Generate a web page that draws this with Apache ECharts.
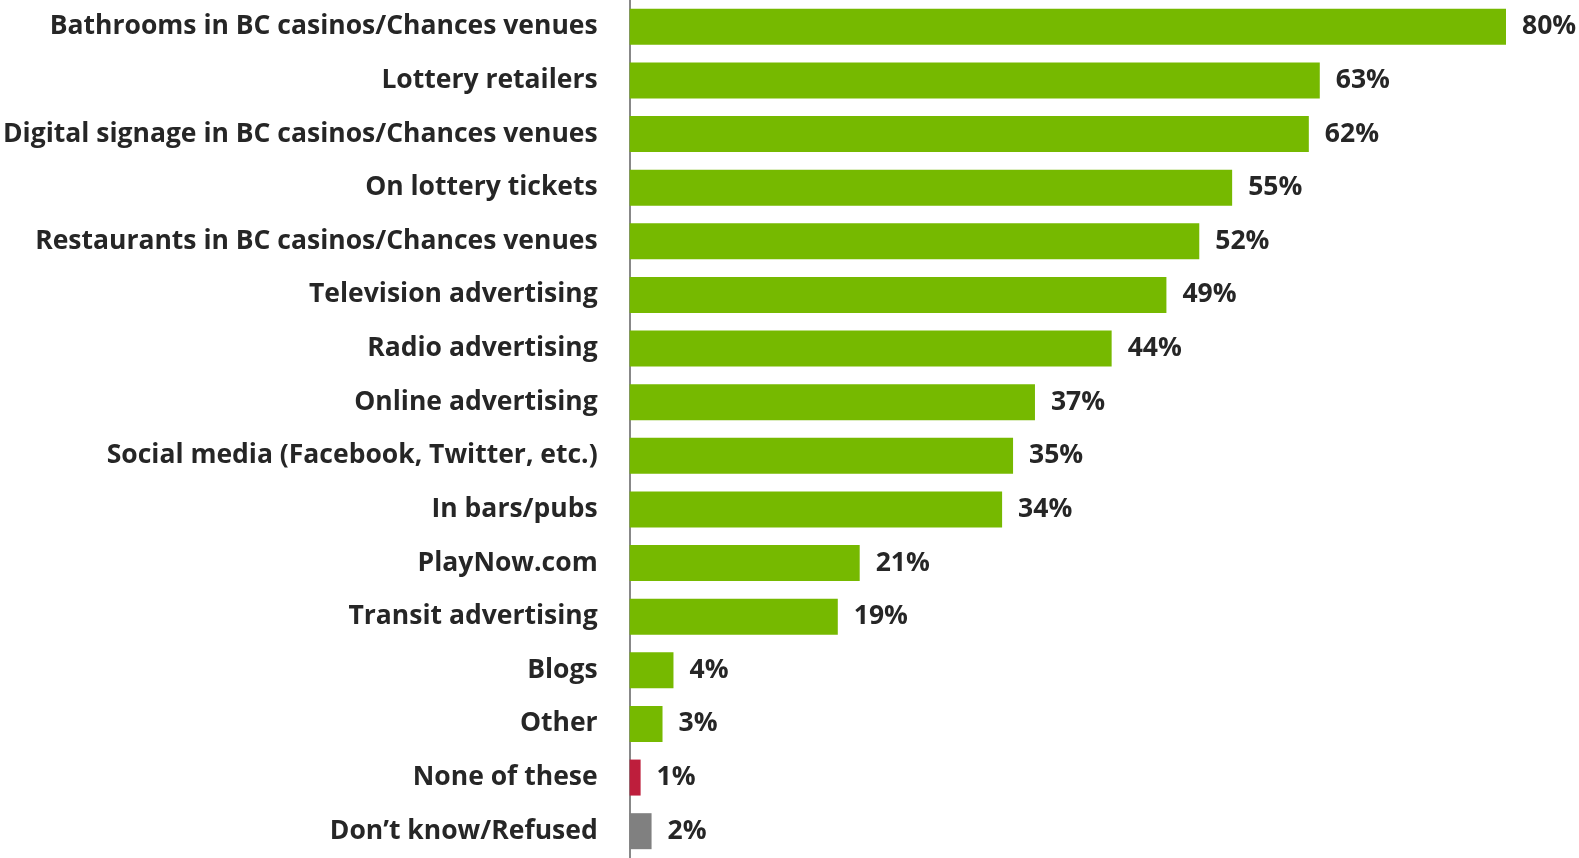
<!DOCTYPE html>
<html>
<head>
<meta charset="utf-8">
<script src="https://cdn.jsdelivr.net/npm/echarts@6/dist/echarts.min.js"></script>
<style>
  html, body { margin: 0; padding: 0; background: #fff; }
  #chart { width: 1579px; height: 858px; }
</style>
</head>
<body>
<div id="chart"></div>
<script>
// Where respondents recall seeing the message (% of respondents)
var categories = [
  "Bathrooms in BC casinos/Chances venues",
  "Lottery retailers",
  "Digital signage in BC casinos/Chances venues",
  "On lottery tickets",
  "Restaurants in BC casinos/Chances venues",
  "Television advertising",
  "Radio advertising",
  "Online advertising",
  "Social media (Facebook, Twitter, etc.)",
  "In bars/pubs",
  "PlayNow.com",
  "Transit advertising",
  "Blogs",
  "Other",
  "None of these",
  "Don\u2019t know/Refused"
];
var values = [80, 63, 62, 55, 52, 49, 44, 37, 35, 34, 21, 19, 4, 3, 1, 2];
var barColors = {
  "None of these": "#BE1E3C",
  "Don\u2019t know/Refused": "#808080"
};

var chart = echarts.init(document.getElementById('chart'));
var FONT = '"Open Sans", "Liberation Sans", sans-serif';

chart.setOption({
  animation: false,
  grid: { left: 627, top: -4, width: 879, height: 869, containLabel: false },
  xAxis: {
    type: 'value', min: 0, max: 80,
    show: false
  },
  yAxis: {
    type: 'category',
    data: categories,
    inverse: true,
    axisLine: { show: true, lineStyle: { color: '#888888', width: 2 } },
    axisTick: { show: false },
    axisLabel: {
      margin: 32,
      color: '#262626',
      fontFamily: FONT,
      fontWeight: 'bold',
      fontSize: 26.5
    }
  },
  series: [{
    type: 'bar',
    barWidth: 36,
    data: values.map(function (v, i) {
      return {
        value: v,
        itemStyle: { color: barColors[categories[i]] || '#76B900' }
      };
    }),
    label: {
      show: true,
      position: 'right',
      distance: 16,
      formatter: '{c}%',
      color: '#262626',
      fontFamily: FONT,
      fontWeight: 'bold',
      fontSize: 26.5
    }
  }]
});
</script>
</body>
</html>
